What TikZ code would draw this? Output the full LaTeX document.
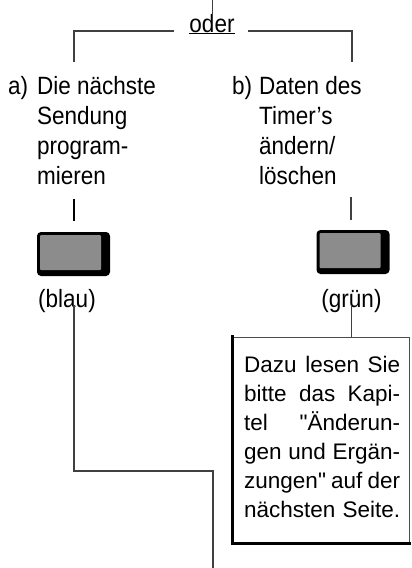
\documentclass[tikz,border=0pt]{standalone}
\usepackage{fontspec}
\setmainfont{Liberation Sans}[FakeStretch=0.9]
\newfontfamily\notefont{Liberation Sans}
\begin{document}
\begin{tikzpicture}
[x=1pt,y=-1pt,
  textdecorate/.style={anchor=base west,inner sep=0pt,font=\fontsize{25}{30}\selectfont},%
  notedecorate/.style={anchor=base west,inner sep=0pt,font=\notefont\fontsize{22.5}{29}\selectfont},%
  linedecorate/.style={-,line width=1.3pt,draw=black!75},%
  taste/.style={minimum width=73pt,minimum height=44pt,inner sep=0pt,
    fill=black,rounded corners=4pt,
    path picture={\fill[black!45,rounded corners=1pt]
      ([shift={(3pt,-3pt)}]path picture bounding box.north west) rectangle
      ([shift={(-9pt,6pt)}]path picture bounding box.south east);}}]
\useasboundingbox (0,0) rectangle (412,568);
%% headline
\node (oder) at (212,32) [anchor=base,inner sep=0pt,font=\fontsize{25}{30}\selectfont] {\underline{oder}};
\coordinate (top) at (212.5,0);
\coordinate (aleg) at (74,62);
\coordinate (bleg) at (352,62);
%% texts of both columns
\foreach \nodename/\x/\y/\txt in {
  alab/8/94/a), a1/37/94/Die nächste, a2/37/124/Sendung, a3/37/154/program-, a4/37/184/mieren,
  blab/232/94/b), b1/259/94/Daten des, b2/259/124/Timer's, b3/259/154/{ändern/}, b4/259/184/löschen}
{
  \node (\nodename) at (\x,\y) [textdecorate] {\txt};
}
%% buttons and colours
\node (bluebtn) at (73.5,254) [taste] {};
\node (greenbtn) at (353,252) [taste] {};
\node (blau) at (67,307) [anchor=base,inner sep=0pt,font=\fontsize{25}{30}\selectfont] {(blau)};
\node (gruen) at (351.5,307) [anchor=base,inner sep=0pt,font=\fontsize{25}{30}\selectfont] {(grün)};
%% note box
\node (note) at (321,440) [minimum width=176pt,minimum height=206pt,inner sep=0pt,draw=black!70,line width=0.8pt] {};
\draw[line width=2.5pt,line cap=rect] (note.north west) -- (note.south west) -- (note.south east);
\foreach \nodename/\y/\txt in {
  n1/372/Dazu lesen Sie,
  n2/401/bitte das Kapi-,
  n3/430/tel "Änderun-,
  n4/459/gen und Ergän-,
  n5/488/zungen" auf der,
  n6/517/nächsten Seite.}
{
  \node (\nodename) at (244,\y) [notedecorate] {\makebox[156pt][s]{\txt}};
}
%% lines
\coordinate (astub) at (74,199);
\coordinate (bstub) at (351,197);
\coordinate (lturn) at (74,471);
\coordinate (lend) at (213,568);
\draw[linedecorate] (top) -- (top |- oder.north);
\draw[linedecorate] (oder.west) ++(-15pt,-7pt) -| (aleg);
\draw[linedecorate] (oder.east) ++(13pt,-7pt) -| (bleg);
\draw[linedecorate,line width=2pt,draw=black] (astub) -- +(0,22);
\draw[linedecorate] (bstub) -- +(0,23);
\draw[linedecorate] (blau.base -| lturn) ++(0,-2) -- (lturn) -| (lend);
\draw[linedecorate] (gruen.base) ++(0,-2) -- (gruen.base |- note.north);
\end{tikzpicture}
\end{document}
